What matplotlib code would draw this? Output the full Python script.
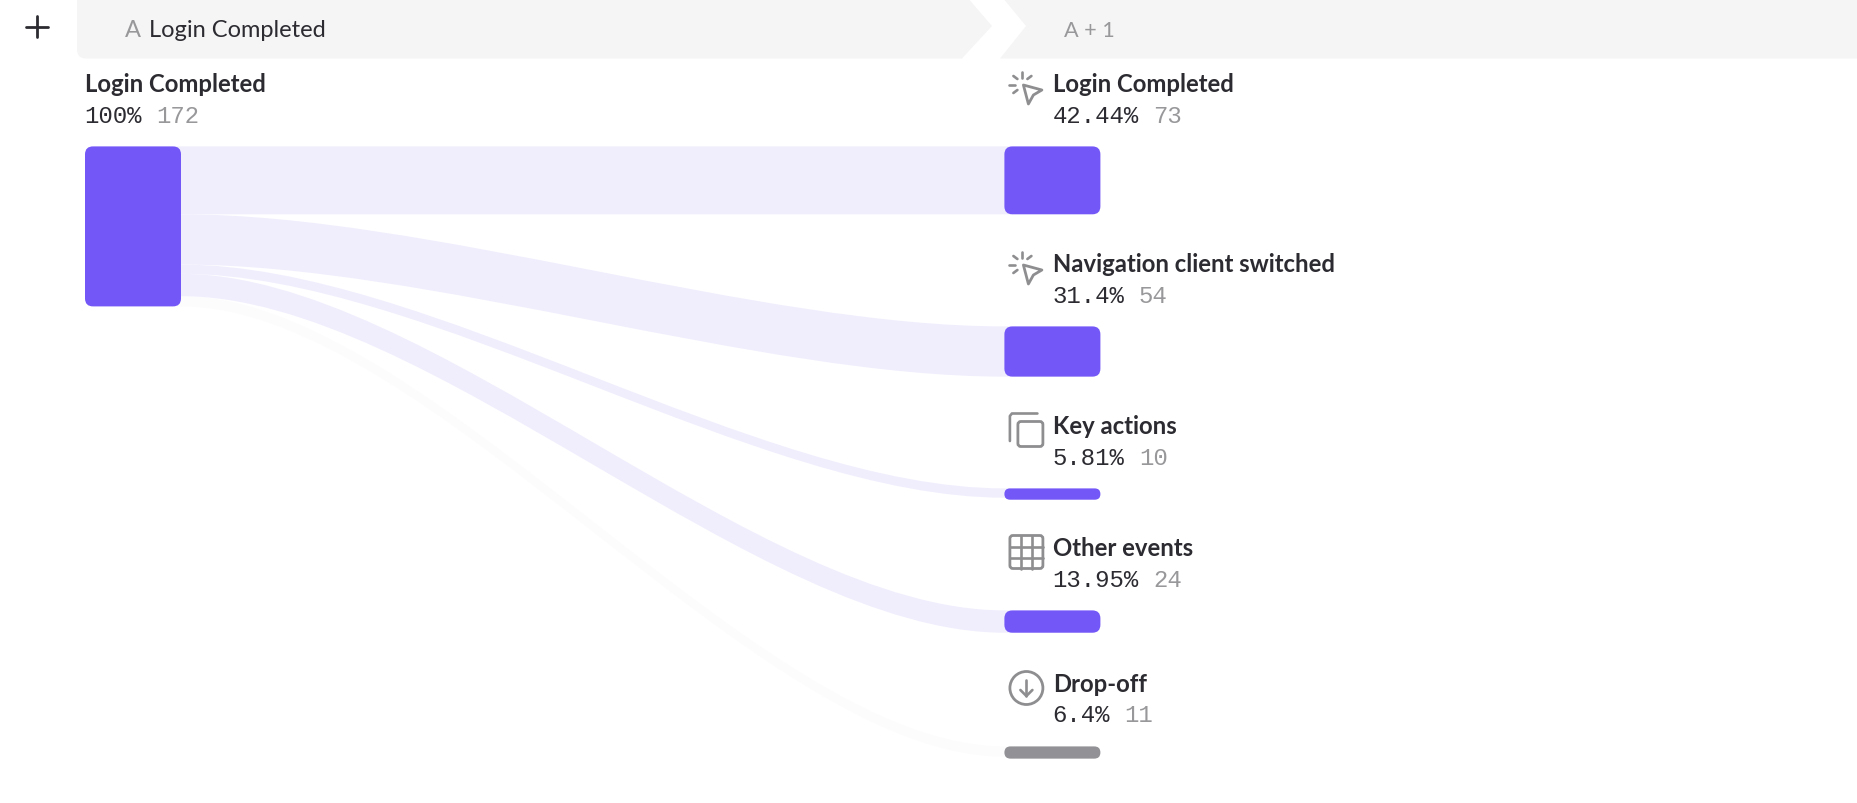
import matplotlib
matplotlib.use("Agg")
import matplotlib.pyplot as plt
from matplotlib.path import Path
from matplotlib.patches import PathPatch, FancyBboxPatch, Circle, Polygon

# ---- data
source_label = "Login Completed"
source_pct = "100%"
source_count = 172
target_labels = ["Login Completed", "Navigation client switched", "Key actions", "Other events", "Drop-off"]
target_pcts = ["42.44%", "31.4%", "5.81%", "13.95%", "6.4%"]
target_counts = [73, 54, 10, 24, 11]
target_icons = ["click", "click", "copy", "grid", "down"]
header_a = ("A", "Login Completed")
header_b = "A + 1"

# ---- style / layout
W, H = 1858, 804
PURPLE = "#7357F7"
GREY_BAR = "#929296"
LINK = "#F0EEFD"
LINK_DROP = "#FCFCFC"
DARK = "#2B2B31"
GREY_TXT = "#98989B"
ICON = "#8E8E90"
HEAD = "#F5F5F5"
SANS = ["Lato", "DejaVu Sans"]
MONO = ["Liberation Mono", "DejaVu Sans Mono"]
TITLE_PT = 17.2
VAL_PT = 17.3
HEAD_PT = 17.0
BAR_W = 96
SRC_X, TGT_X = 85, 1004.4
TOP = 147.4
CURVE = 0.3
PX_PER = 160 / source_count
TARGET_TOPS = [147.4, 327.4, 489.4, 611.4, 747.4]
TITLE_BASE = [92, 272, 434, 556, 692]
VAL_BASE = [123, 303, 465, 587, 722]
ICON_TOPS = [72, 252, 413, 535, 671]

fig = plt.figure(figsize=(W / 100, H / 100), dpi=100, facecolor="white")
ax = fig.add_axes([0, 0, 1, 1])
ax.set_xlim(0, W)
ax.set_ylim(H, 0)
ax.axis("off")


def rbar(x, y, w, h, color, r=8, z=3):
    r = min(r, h / 2)
    ax.add_patch(FancyBboxPatch((x + r, y + r), w - 2 * r, h - 2 * r,
                                boxstyle=f"round,pad={r},rounding_size={r}",
                                fc=color, ec="none", zorder=z))


def link(y0a, y0b, y1a, y1b, color, z=1):
    xa, xb = SRC_X + BAR_W, TGT_X
    x0, x1 = xa - 6, xb + 6
    c0, c1 = xa + CURVE * (xb - xa), xb - CURVE * (xb - xa)
    verts = [(x0, y0a), (xa, y0a), (c0, y0a), (c1, y1a), (xb, y1a), (x1, y1a), (x1, y1b), (xb, y1b),
             (c1, y1b), (c0, y0b), (xa, y0b), (x0, y0b), (x0, y0a)]
    codes = [Path.MOVETO, Path.LINETO, Path.CURVE4, Path.CURVE4, Path.CURVE4, Path.LINETO, Path.LINETO,
             Path.LINETO, Path.CURVE4, Path.CURVE4, Path.CURVE4, Path.LINETO, Path.CLOSEPOLY]
    ax.add_patch(PathPatch(Path(verts, codes), fc=color, ec="none", zorder=z))


def label(x, title, pct, count, tb, vb):
    ax.text(x, tb, title, family=SANS, fontsize=TITLE_PT, fontweight="bold", color=DARK, va="baseline")
    ax.text(x - 0.8, vb, pct, family=MONO, fontsize=VAL_PT, color=DARK, va="baseline")
    n = len(pct) + 1
    probe = ax.text(0, 0, "0" * 10, family=MONO, fontsize=VAL_PT, alpha=0)
    bb = probe.get_window_extent(fig.canvas.get_renderer())
    adv = bb.width / 10
    probe.remove()
    ax.text(x - 0.8 + n * adv, vb, str(count), family=MONO, fontsize=VAL_PT, color=GREY_TXT, va="baseline")


def icon(kind, x, y):
    """x, y = top-left of a 35 px icon box"""
    lw = 1.9
    kw = dict(color=ICON, lw=lw, solid_capstyle="round", zorder=4)
    if kind == "click":
        for a, b, c, d in [(14, 1, 14, 7), (5, 5, 9, 8), (1, 14, 7, 14), (5, 22, 9, 19), (23, 5, 19, 8)]:
            ax.plot([x + a, x + c], [y + b, y + d], **kw)
        ax.add_patch(Polygon([(x + 15, y + 14), (x + 33.5, y + 19), (x + 25, y + 24),
                              (x + 20, y + 33)], closed=True, fc="white", ec=ICON, lw=2.0,
                             joinstyle="round", zorder=4))
    elif kind == "copy":
        ax.plot([x + 1.5, x + 1.5, x + 3.5, x + 29], [y + 29, y + 4, y + 1.5, y + 1.5], **kw)
        ax.add_patch(FancyBboxPatch((x + 9.5, y + 9.5), 25, 25, boxstyle="round,pad=0,rounding_size=3",
                                    fc="white", ec=ICON, lw=2.0, zorder=4))
    elif kind == "grid":
        ax.add_patch(FancyBboxPatch((x + 1.5, y + 1.5), 33, 33, boxstyle="round,pad=0,rounding_size=3",
                                    fc="white", ec=ICON, lw=2.0, zorder=4))
        for f in (1, 2):
            p = 1.5 + 33 * f / 3
            ax.plot([x + p, x + p], [y + 1.5, y + 34.5], **kw)
            ax.plot([x + 1.5, x + 34.5], [y + p, y + p], **kw)
    elif kind == "down":
        ax.add_patch(Circle((x + 18, y + 18), 16.5, fc="white", ec=ICON, lw=2.0, zorder=4))
        ax.plot([x + 18, x + 18], [y + 10, y + 26], **kw)
        ax.plot([x + 12, x + 18, x + 24], [y + 20, y + 26, y + 20], **kw)


# ---- header
r = 9
v = [(77, -2), (967, -2), (992, 27), (962, 59.5), (77 + r, 59.5), (77, 59.5), (77, 59.5 - r), (77, -2)]
c = [Path.MOVETO, Path.LINETO, Path.LINETO, Path.LINETO, Path.LINETO, Path.CURVE3, Path.CURVE3, Path.CLOSEPOLY]
ax.add_patch(PathPatch(Path(v, c), fc=HEAD, ec="none", zorder=1))
ax.add_patch(Polygon([(1002, -2), (1026, 27), (1000, 59.5), (W + 2, 59.5), (W + 2, -2)], closed=True,
                     fc=HEAD, ec="none", zorder=1))
ax.text(125, 36.6, header_a[0], family=SANS, fontsize=HEAD_PT, color=GREY_TXT, va="baseline")
ax.text(149, 36.6, header_a[1], family=SANS, fontsize=HEAD_PT, color=DARK, va="baseline")
ax.text(1064, 36.6, header_b, family=SANS, fontsize=15.6, color=GREY_TXT, va="baseline")
ax.plot([26, 48], [27.5, 27.5], color=DARK, lw=2.0, solid_capstyle="round")
ax.plot([37, 37], [16.5, 38], color=DARK, lw=2.0, solid_capstyle="round")

# ---- bars and links
rbar(SRC_X, TOP, BAR_W, source_count * PX_PER, PURPLE)
label(SRC_X, source_label, source_pct, source_count, TITLE_BASE[0], VAL_BASE[0])

y = TOP
for i, cnt in enumerate(target_counts):
    h = cnt * PX_PER
    ty = TARGET_TOPS[i]
    drop = target_icons[i] == "down"
    link(y, y + h, ty, ty + h, LINK_DROP if drop else LINK, z=0.5 if drop else 1)
    rbar(TGT_X, ty, BAR_W, h + (2 if h < 12 else 0), GREY_BAR if drop else PURPLE)
    label(TGT_X + 49, target_labels[i], target_pcts[i], cnt, TITLE_BASE[i], VAL_BASE[i])
    icon(target_icons[i], TGT_X + 4, ICON_TOPS[i])
    y += h

fig.savefig("out.png", dpi=100, facecolor="white")
